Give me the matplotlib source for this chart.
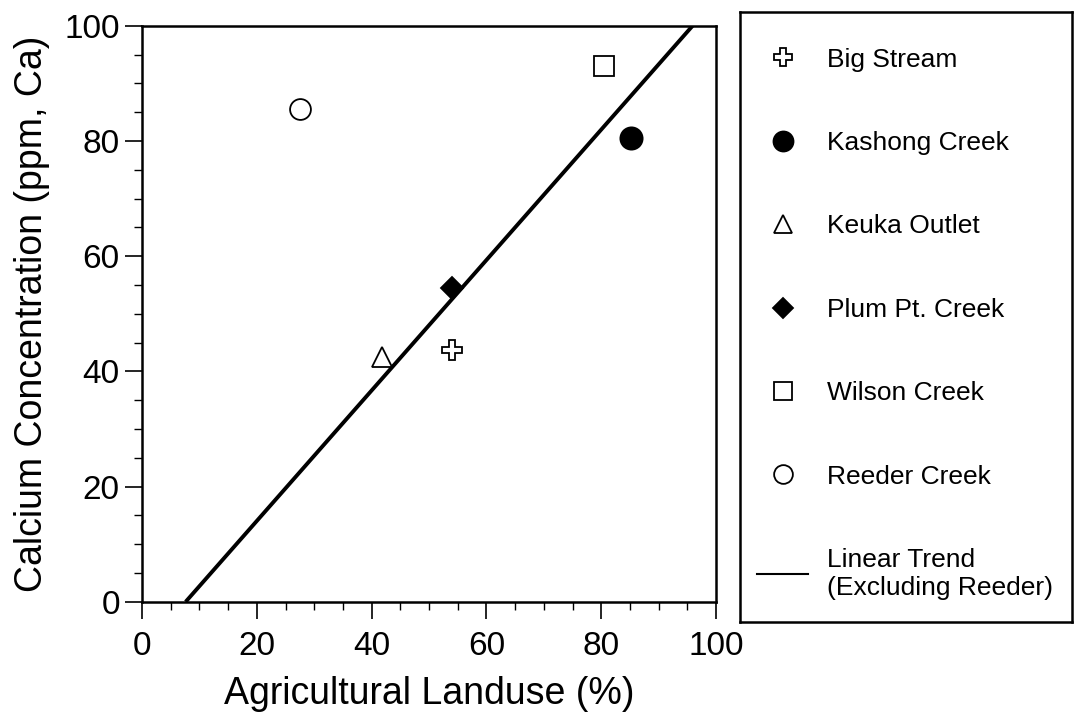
import numpy as np
import matplotlib
matplotlib.use("Agg")
import matplotlib.pyplot as plt
from matplotlib.lines import Line2D

plt.rcParams['font.family'] = ['Liberation Sans', 'DejaVu Sans']

# Agricultural landuse (%) and calcium (ppm) per creek
sites = ['Big Stream', 'Kashong Creek', 'Keuka Outlet', 'Plum Pt. Creek',
         'Wilson Creek', 'Reeder Creek']
landuse = [54.0, 85.2, 41.8, 54.0, 80.5, 27.5]
calcium = [43.8, 80.5, 42.5, 54.5, 93.0, 85.5]
markers = ['P', 'o', '^', 'D', 's', 'o']
faces = ['white', 'black', 'white', 'black', 'white', 'white']
msizes = [14, 16, 15, 11, 15, 15]

x_ticks = [0, 20, 40, 60, 80, 100]
y_ticks = [0, 20, 40, 60, 80, 100]

fig = plt.figure(figsize=(10.76, 7.19), dpi=100)
ax = fig.add_axes([0.132, 0.163, 0.5335, 0.801])

for name, x, y, m, fc, ms in zip(sites, landuse, calcium, markers, faces, msizes):
    ax.plot([x], [y], linestyle='none', marker=m, markersize=ms,
            markerfacecolor=fc, markeredgecolor='black', markeredgewidth=1.3,
            label=name, clip_on=False, zorder=3)

# least squares trend, Reeder Creek left out
keep = [i for i, s in enumerate(sites) if s != 'Reeder Creek']
kx = np.array([landuse[i] for i in keep])
ky = np.array([calcium[i] for i in keep])
slope, icept = np.polyfit(kx, ky, 1)
x0 = -icept / slope
x1 = (100 - icept) / slope
ax.plot([x0, x1], [slope * x0 + icept, slope * x1 + icept],
        color='black', linewidth=2.8, solid_capstyle='butt', zorder=2)

ax.set_xlim(0, 100)
ax.set_ylim(0, 100)
ax.set_xticks(x_ticks)
ax.set_yticks(y_ticks)
ax.set_xticks(np.arange(0, 101, 5), minor=True)
ax.set_yticks(np.arange(0, 101, 5), minor=True)
ax.tick_params(which='major', direction='out', length=12, width=1.2,
               labelsize=24)
ax.tick_params(which='minor', direction='out', length=6, width=1.0)
ax.tick_params(axis='x', pad=9)
ax.tick_params(axis='y', pad=4)
for sp in ax.spines.values():
    sp.set_linewidth(1.8)

ax.set_xlabel('Agricultural Landuse (%)', fontsize=27, labelpad=10)
ax.set_ylabel('Calcium Concentration (ppm, Ca)', fontsize=27, labelpad=10)

# boxed key to the right of the plot
lax = fig.add_axes([0.688, 0.135, 0.308, 0.848])
lax.set_xticks([])
lax.set_yticks([])
for sp in lax.spines.values():
    sp.set_linewidth(1.8)

handles, labels = ax.get_legend_handles_labels()
handles.append(Line2D([], [], color='black', linewidth=1.5))
labels.append('Linear Trend\n(Excluding Reeder)')
lax.legend(handles, labels, loc='upper left', bbox_to_anchor=(0, 0.97),
           frameon=False, fontsize=19, numpoints=1, labelspacing=2.25,
           borderaxespad=0, borderpad=0.65, handlelength=1.9,
           handletextpad=0.75, markerscale=0.9)

fig.savefig('out.png', dpi=100)
